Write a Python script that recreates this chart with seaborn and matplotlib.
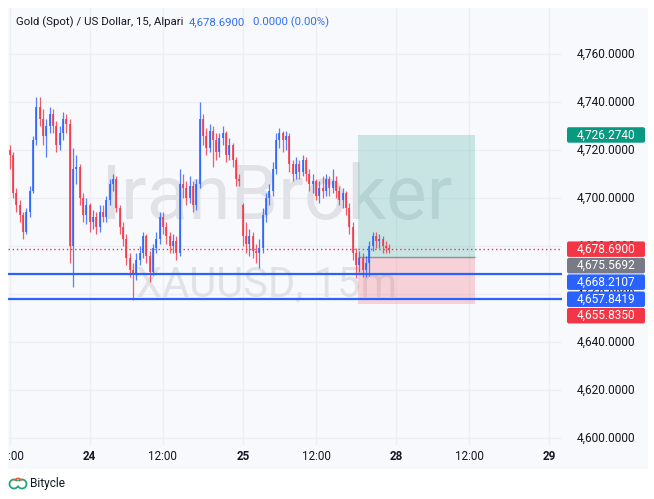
import numpy as np
import pandas as pd
import seaborn as sns
import matplotlib.pyplot as plt
from matplotlib.patches import Rectangle, FancyBboxPatch, Arc
from matplotlib.transforms import Bbox, blended_transform_factory

# ---------------- data ----------------
title = "Gold (Spot) / US Dollar, 15, Alpari"
last_price_text = "4,678.6900"
change_text = "0.0000 (0.00%)"

opens = [4720, 4718, 4702, 4697, 4693, 4686, 4694, 4703, 4724, 4738,
         4733, 4726, 4730, 4735, 4730, 4722, 4727, 4733, 4731, 4680,
         4712, 4713, 4700, 4693, 4697, 4690, 4692, 4688, 4694, 4692,
         4699, 4706, 4708, 4696, 4688, 4683, 4675, 4670, 4668, 4674,
         4677, 4684, 4676, 4669, 4679, 4683, 4692, 4688, 4684, 4680,
         4682, 4677, 4706, 4704, 4700, 4705, 4697, 4706, 4733, 4726,
         4721, 4728, 4724, 4719, 4725, 4727, 4718, 4722, 4716, 4708,
         4697, 4684, 4681, 4684, 4678, 4677, 4679, 4693, 4700, 4703,
         4712, 4724, 4727, 4724, 4726, 4714, 4710, 4714, 4711, 4716,
         4710, 4706, 4707, 4701, 4704, 4703, 4708, 4704, 4707, 4703,
         4699, 4702, 4696, 4688, 4677, 4672, 4675, 4670, 4673, 4680,
         4684, 4682, 4683, 4680, 4679]
highs = [4722, 4719, 4704, 4699, 4694, 4696, 4705, 4726, 4742, 4742,
         4737, 4733, 4738, 4737, 4732, 4730, 4736, 4735, 4733, 4721,
         4718, 4714, 4702, 4700, 4698, 4695, 4694, 4697, 4697, 4701,
         4708, 4710, 4709, 4697, 4690, 4685, 4677, 4673, 4677, 4680,
         4686, 4685, 4678, 4681, 4686, 4694, 4694, 4690, 4686, 4685,
         4684, 4712, 4710, 4707, 4709, 4707, 4708, 4740, 4735, 4729,
         4731, 4730, 4727, 4727, 4730, 4728, 4725, 4723, 4717, 4710,
         4698, 4690, 4687, 4686, 4681, 4683, 4696, 4702, 4706, 4715,
         4727, 4729, 4728, 4728, 4727, 4716, 4717, 4716, 4718, 4717,
         4712, 4710, 4708, 4707, 4709, 4710, 4709, 4712, 4709, 4705,
         4704, 4703, 4698, 4690, 4679, 4678, 4677, 4676, 4682, 4686,
         4686, 4685, 4684, 4682, 4681]
lows = [4712, 4700, 4694, 4690, 4683, 4685, 4692, 4702, 4722, 4730,
        4722, 4717, 4727, 4727, 4719, 4720, 4724, 4727, 4673, 4663,
        4706, 4697, 4690, 4689, 4686, 4687, 4685, 4686, 4690, 4690,
        4697, 4703, 4694, 4685, 4680, 4672, 4667, 4657.5, 4666, 4672,
        4675, 4673, 4665, 4668, 4677, 4681, 4685, 4681, 4677, 4677,
        4674, 4676, 4700, 4697, 4698, 4694, 4695, 4704, 4722, 4718,
        4719, 4713, 4716, 4717, 4722, 4715, 4716, 4713, 4705, 4705,
        4680, 4677, 4676, 4675, 4673, 4671, 4677, 4690, 4697, 4701,
        4710, 4721, 4719, 4720, 4711, 4707, 4708, 4708, 4709, 4707,
        4703, 4702, 4699, 4698, 4700, 4701, 4701, 4702, 4700, 4697,
        4696, 4693, 4685, 4674, 4666.5, 4669, 4667, 4667, 4667.5, 4678,
        4679, 4679, 4677, 4677, 4677]
closes = [4718, 4702, 4697, 4693, 4686, 4694, 4703, 4724, 4738, 4733,
          4726, 4730, 4735, 4730, 4722, 4727, 4733, 4731, 4680, 4712,
          4713, 4700, 4693, 4697, 4690, 4692, 4688, 4694, 4692, 4699,
          4706, 4708, 4696, 4688, 4683, 4675, 4670, 4668, 4674, 4677,
          4684, 4676, 4669, 4679, 4683, 4692, 4688, 4684, 4680, 4682,
          4677, 4706, 4704, 4700, 4705, 4697, 4706, 4733, 4726, 4721,
          4728, 4724, 4719, 4725, 4727, 4718, 4722, 4716, 4708, 4707,
          4684, 4681, 4684, 4678, 4677, 4679, 4693, 4700, 4703, 4712,
          4724, 4727, 4724, 4726, 4714, 4710, 4714, 4711, 4716, 4710,
          4706, 4707, 4701, 4704, 4703, 4708, 4704, 4707, 4703, 4699,
          4702, 4696, 4688, 4677, 4672, 4675, 4670, 4673, 4680, 4684,
          4682, 4683, 4680, 4679, 4678.69]

x_tick_pos = [0, 24, 46, 70, 92, 116, 138, 162]
x_tick_labels = ["12:00", "24", "12:00", "25", "12:00", "28", "12:00", "29"]
y_ticks = [4600, 4620, 4640, 4660, 4680, 4700, 4720, 4740, 4760]

last_price = 4678.69
take_profit = 4726.2740
entry_price = 4675.5692
stop_loss = 4655.8350
level_1 = 4668.2107
level_2 = 4657.8419
position_start = 104.6
position_end = 139.8

watermark = "IranBroker"
symbol_mark = "XAUUSD, 15m"
brand = "Bitycle"

# ---------------- style ----------------
sns.set_theme(style="white")
plt.rcParams['font.family'] = ['Roboto', 'DejaVu Sans']

UP, DOWN = '#2962FF', '#F23645'
GREEN, GREY = '#089981', '#787B86'
TEXT = '#131722'
BG = '#f8f9fd'

W, H = 654, 499
fig = plt.figure(figsize=(W / 100, H / 100), dpi=100)
fig.patch.set_facecolor('white')


def rect(x0, y0, x1, y1):
    return [x0 / W, 1 - y1 / H, (x1 - x0) / W, (y1 - y0) / H]


fig.add_artist(Rectangle((8 / W, 1 - 469 / H), 640 / W, 461 / H,
                         transform=fig.transFigure, fc=BG, ec='none', zorder=0))

ax = fig.add_axes(rect(8, 8, 562, 445))
ax.set_facecolor(BG)
ax.set_xlim(-0.54, 165.9)
ax.set_ylim(4597.1, 4779.17)
for s in ax.spines.values():
    s.set_visible(False)
ax.set_xticks(x_tick_pos)
ax.set_xticklabels([])
ax.set_yticks(y_ticks)
ax.set_yticklabels([])
ax.tick_params(length=0)
ax.grid(True, color='#eceef4', lw=0.9)
ax.set_axisbelow(True)

# watermarks
ax.text(0.484, 0.565, watermark, transform=ax.transAxes, ha='center', va='center',
        fontsize=55, color='#e0e2e7', zorder=1)
ax.text(0.466, 0.366, symbol_mark, transform=ax.transAxes, ha='center', va='center',
        fontsize=30, color='#e0e2e7', zorder=1)

# position boxes
ax.add_patch(Rectangle((position_start, entry_price), position_end - position_start,
                       take_profit - entry_price, fc=GREEN, alpha=0.2, lw=0, zorder=2))
ax.add_patch(Rectangle((position_start, stop_loss), position_end - position_start,
                       entry_price - stop_loss, fc=DOWN, alpha=0.2, lw=0, zorder=2))
ax.hlines(entry_price, position_start, position_end, color='#7f9794', lw=1, zorder=2.5)

# candles
df = pd.DataFrame(dict(bar=np.arange(len(closes)), open=opens, high=highs,
                       low=lows, close=closes))
colors = np.where(df['close'] >= df['open'], UP, DOWN)
ax.vlines(df['bar'], df['low'], df['high'], colors=colors, lw=0.9, alpha=0.8, zorder=4)
body = (df['close'] - df['open']).abs().clip(lower=0.4)
ax.bar(df['bar'], body, bottom=np.minimum(df['open'], df['close']), width=0.6,
       color=colors, alpha=0.8, lw=0, zorder=4)

# horizontal lines
ax.axhline(last_price, color=DOWN, lw=1, ls=(0, (1, 2)), zorder=3)
ax.axhline(level_1, color=UP, lw=1.6, zorder=5)
ax.axhline(level_2, color=UP, lw=1.6, zorder=5)

# x labels
xt = blended_transform_factory(ax.transData, fig.transFigure)
for pos, lab in zip(x_tick_pos, x_tick_labels):
    t = fig.text(pos, 1 - 457 / H, lab, transform=xt, ha='center', va='center',
                 fontsize=8.4, color=TEXT,
                 fontweight='bold' if lab.isdigit() else 'normal')
    t.set_clip_box(Bbox([[8, 0], [W, H]]))
    t.set_clip_on(True)

# price axis
pax = fig.add_axes(rect(562, 8, 648, 445))
pax.set_xlim(0, 86)
pax.set_ylim(ax.get_ylim())
pax.axis('off')
for p in y_ticks:
    pax.text(44, p, f"{p:,.4f}", ha='center', va='center', fontsize=8.6,
             color=TEXT, zorder=1)

px_per_unit = 437 / (4779.17 - 4597.1)
box_h = 15.5 / px_per_unit
step = 16.5 / px_per_unit


def price_box(y, value, color):
    pax.add_patch(FancyBboxPatch((5, y - box_h / 2), 78, box_h,
                                 boxstyle='round,pad=0,rounding_size=2',
                                 mutation_aspect=1 / px_per_unit,
                                 fc=color, ec='none', zorder=3))
    pax.text(44, y, f"{value:,.4f}", ha='center', va='center', fontsize=8.6,
             color='white', zorder=4)


price_box(take_profit, take_profit, GREEN)
stack = [(last_price, DOWN), (entry_price, GREY), (level_1, UP),
         (level_2, UP), (stop_loss, DOWN)]
prev = None
for val, col in stack:
    y = val if prev is None else min(val, prev - step)
    price_box(y, val, col)
    prev = y

# header
fig.text(16 / W, 1 - 22 / H, title, fontsize=8.2, va='center', color=TEXT)
fig.text(189 / W, 1 - 22 / H, last_price_text, fontsize=8.2, va='center', color='#2f6ff5')
fig.text(253 / W, 1 - 22 / H, change_text, fontsize=8.2, va='center', color='#2f6ff5')

# footer brand
iax = fig.add_axes(rect(8, 476, 28, 490))
iax.set_xlim(0, 20)
iax.set_ylim(0, 14)
iax.axis('off')
iax.add_patch(Arc((6, 6), 9, 9, theta1=40, theta2=330, color='#1fa67a', lw=1.3))
iax.add_patch(Arc((14, 6), 9, 9, theta1=200, theta2=140, color='#1fa67a', lw=1.3))
iax.add_patch(Arc((10, 8), 7, 7, theta1=20, theta2=160, color='#f05a3a', lw=1.3))
fig.text(30 / W, 1 - 483 / H, brand, fontsize=8.6, va='center', color=TEXT)

fig.savefig('out.png', dpi=100, facecolor='white')
